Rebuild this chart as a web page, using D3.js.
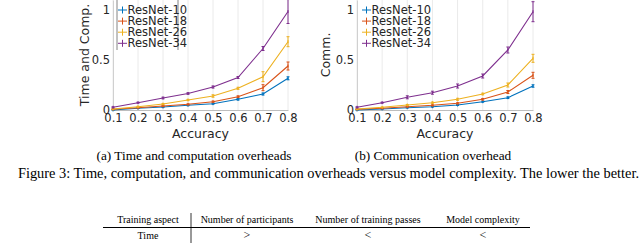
<!DOCTYPE html>
<html>
<head>
<meta charset="utf-8">
<script src="https://cdn.jsdelivr.net/npm/d3@7"></script>
<style>
  body { margin: 0; background: #fff; }
  svg { display: block; }
  .tick text { font-family: "DejaVu Sans", sans-serif; }
</style>
</head>
<body>
<div id="chart"></div>
<script>
// accuracy levels on the x axis
const accuracy = [0.1, 0.2, 0.3, 0.4, 0.5, 0.6, 0.7, 0.8];
const models = ["ResNet-10", "ResNet-18", "ResNet-26", "ResNet-34"];
const colors = ["#0072BD", "#D95319", "#EDB120", "#7E2F8E"];

// (a) time and computation overheads, normalised
const timeMean = [
    [0.0, 0.017, 0.03, 0.047, 0.063, 0.107, 0.16, 0.317],
    [0.007, 0.023, 0.04, 0.057, 0.083, 0.133, 0.223, 0.44],
    [0.01, 0.033, 0.06, 0.1, 0.14, 0.217, 0.333, 0.683],
    [0.027, 0.073, 0.12, 0.165, 0.23, 0.325, 0.615, 0.985]
];
const timeErr = [
    [0.002, 0.002, 0.003, 0.004, 0.005, 0.008, 0.01, 0.015],
    [0.002, 0.003, 0.004, 0.005, 0.006, 0.008, 0.03, 0.04],
    [0.003, 0.004, 0.005, 0.006, 0.012, 0.01, 0.05, 0.05],
    [0.005, 0.005, 0.008, 0.008, 0.01, 0.01, 0.02, 0.12]
];

// (b) communication overhead, normalised
const commMean = [
    [0.0, 0.01, 0.023, 0.033, 0.05, 0.083, 0.123, 0.24],
    [0.007, 0.017, 0.033, 0.047, 0.067, 0.107, 0.18, 0.347],
    [0.01, 0.027, 0.05, 0.073, 0.107, 0.16, 0.25, 0.517],
    [0.027, 0.073, 0.127, 0.173, 0.24, 0.34, 0.6, 0.983]
];
const commErr = [
    [0.002, 0.002, 0.003, 0.004, 0.005, 0.005, 0.008, 0.012],
    [0.002, 0.003, 0.004, 0.005, 0.006, 0.008, 0.015, 0.03],
    [0.003, 0.003, 0.005, 0.006, 0.01, 0.008, 0.02, 0.04],
    [0.005, 0.005, 0.015, 0.015, 0.02, 0.02, 0.03, 0.1]
];

const yTicks = [0, 0.5, 1];

// table below the figure caption
const tableHeader = ["Training aspect", "Number of participants", "Number of training passes", "Model complexity"];
const tableRows = [
    ["Time", ">", "<", "<"],
    ["Computation", ">", "<", "<"]
];

const svg = d3.select("#chart").append("svg")
    .attr("width", 640)
    .attr("height", 243);

function drawPanel(p) {
    const x = d3.scaleLinear().domain([0.1, 0.8]).range([p.left, p.right]);
    const y = d3.scaleLinear().domain([0, 1.1]).range([110, 0]);
    const g = svg.append("g");

    // grid
    g.append("g").selectAll("line")
        .data(accuracy)
        .join("line")
        .attr("x1", d => x(d)).attr("x2", d => x(d))
        .attr("y1", y(1.1)).attr("y2", y(0))
        .attr("stroke", "#e4e4e4")
        .attr("stroke-width", 0.8);

    g.append("g")
        .attr("transform", `translate(0,${y(0)})`)
        .call(d3.axisBottom(x).tickValues(accuracy).tickSize(0).tickPadding(4).tickFormat(d3.format(".1f")))
        .call(a => a.select(".domain").attr("stroke", "#bdbdbd"))
        .call(a => a.selectAll("text").attr("font-size", 11.5).attr("fill", "#262626"));

    g.append("g")
        .attr("transform", `translate(${p.left},0)`)
        .call(d3.axisLeft(y).tickValues(yTicks).tickSize(0).tickPadding(3).tickFormat(d => d === 0.5 ? "0.5" : d))
        .call(a => a.select(".domain").attr("stroke", "#d0d0d0"))
        .call(a => a.selectAll("text").attr("font-size", 11.5).attr("fill", "#262626"));

    const line = d3.line()
        .x((d, i) => x(accuracy[i]))
        .y(d => y(d));

    p.mean.forEach((vals, s) => {
        const c = colors[s];
        g.append("path")
            .datum(vals)
            .attr("fill", "none")
            .attr("stroke", c)
            .attr("stroke-width", 1.1)
            .attr("d", line);

        const pts = vals.map((v, i) => ({ a: accuracy[i], v, e: p.err[s][i] }));
        const eb = g.append("g").attr("stroke", c).attr("stroke-width", 1);
        eb.selectAll(".bar").data(pts).join("line")
            .attr("x1", d => x(d.a)).attr("x2", d => x(d.a))
            .attr("y1", d => y(d.v - d.e)).attr("y2", d => y(d.v + d.e));
        eb.selectAll(".capT").data(pts).join("line")
            .attr("x1", d => x(d.a) - 1.5).attr("x2", d => x(d.a) + 1.5)
            .attr("y1", d => y(d.v + d.e)).attr("y2", d => y(d.v + d.e));
        eb.selectAll(".capB").data(pts).join("line")
            .attr("x1", d => x(d.a) - 1.5).attr("x2", d => x(d.a) + 1.5)
            .attr("y1", d => y(d.v - d.e)).attr("y2", d => y(d.v - d.e));
        eb.selectAll(".mk").data(pts).join("line")
            .attr("x1", d => x(d.a)).attr("x2", d => x(d.a))
            .attr("y1", d => y(d.v) - 1.5).attr("y2", d => y(d.v) + 1.5);
    });

    // axis labels
    g.append("text")
        .attr("x", (p.left + p.right) / 2)
        .attr("y", 138)
        .attr("text-anchor", "middle")
        .attr("font-family", "DejaVu Sans, sans-serif")
        .attr("font-size", 12.5)
        .attr("fill", "#262626")
        .text("Accuracy");

    g.append("text")
        .attr("transform", `translate(${p.ylabelX},${y(0.55)}) rotate(-90)`)
        .attr("text-anchor", "middle")
        .attr("font-family", "DejaVu Sans, sans-serif")
        .attr("font-size", 12.5)
        .attr("fill", "#262626")
        .text(p.ylabel);

    // legend
    const lg = g.append("g");
    if (p.legendBox) {
        lg.append("line").attr("x1", p.legX - 4).attr("x2", p.legX - 4).attr("y1", 0).attr("y2", 50)
            .attr("stroke", "#666").attr("stroke-width", 0.8);
        lg.append("line").attr("x1", p.legX + 57).attr("x2", p.legX + 57).attr("y1", 0).attr("y2", 50)
            .attr("stroke", "#666").attr("stroke-width", 0.8);
    }
    models.forEach((m, i) => {
        const ly = 10 + i * 11.1;
        lg.append("line")
            .attr("x1", p.legX - 3).attr("x2", p.legX + 6)
            .attr("y1", ly).attr("y2", ly)
            .attr("stroke", colors[i]).attr("stroke-width", 1);
        lg.append("line")
            .attr("x1", p.legX + 1.5).attr("x2", p.legX + 1.5)
            .attr("y1", ly - 3.5).attr("y2", ly + 3.5)
            .attr("stroke", colors[i]).attr("stroke-width", 1);
        lg.append("text")
            .attr("x", p.legX + 6.5)
            .attr("y", ly)
            .attr("dy", "0.35em")
            .attr("font-family", "DejaVu Sans, sans-serif")
            .attr("font-size", 11.5)
            .attr("fill", "#262626")
            .text(m);
    });

    // sub caption
    svg.append("text")
        .attr("x", p.capX)
        .attr("y", 160)
        .attr("text-anchor", "middle")
        .attr("font-family", "Liberation Serif, serif")
        .attr("font-size", 13.3)
        .attr("fill", "#000")
        .text(p.caption);
}

drawPanel({
    left: 113, right: 288, mean: timeMean, err: timeErr,
    ylabel: "Time and Comp.", ylabelX: 89, legX: 121, legendBox: true,
    caption: "(a) Time and computation overheads", capX: 194
});
drawPanel({
    left: 357, right: 533, mean: commMean, err: commErr,
    ylabel: "Comm.", ylabelX: 330, legX: 365, legendBox: false,
    caption: "(b) Communication overhead", capX: 433
});

svg.append("text")
    .attr("x", 639)
    .attr("y", 178)
    .attr("text-anchor", "end")
    .attr("font-family", "Liberation Serif, serif")
    .attr("font-size", 14.4)
    .attr("fill", "#000")
    .text("Figure 3: Time, computation, and communication overheads versus model complexity. The lower the better.");

// table
const colX = [148, 247, 368, 483];
const tbl = svg.append("g")
    .attr("font-family", "Liberation Serif, serif")
    .attr("font-size", 10)
    .attr("fill", "#000");

tbl.selectAll(".hd").data(tableHeader).join("text")
    .attr("x", (d, i) => colX[i])
    .attr("y", 223)
    .attr("text-anchor", "middle")
    .text(d => d);

tbl.append("line")
    .attr("x1", 103).attr("x2", 530)
    .attr("y1", 227.5).attr("y2", 227.5)
    .attr("stroke", "#000").attr("stroke-width", 1);

tbl.append("line")
    .attr("x1", 191).attr("x2", 191)
    .attr("y1", 213).attr("y2", 243)
    .attr("stroke", "#000").attr("stroke-width", 0.8);

tableRows.forEach((row, r) => {
    tbl.selectAll(".r" + r).data(row).join("text")
        .attr("x", (d, i) => colX[i])
        .attr("y", 239 + r * 12)
        .attr("text-anchor", "middle")
        .attr("font-size", (d, i) => i === 0 ? 10 : 12)
        .text(d => d);
});
</script>
</body>
</html>
